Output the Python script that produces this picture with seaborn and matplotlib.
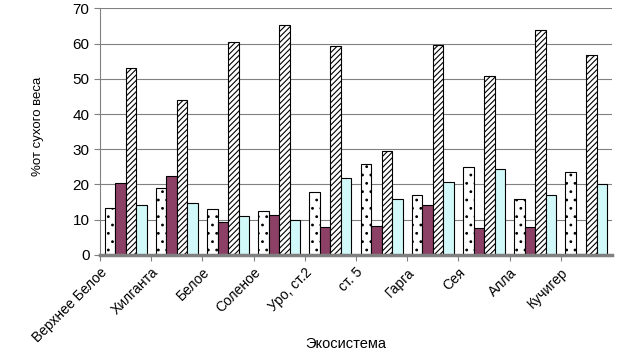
import pandas as pd
import seaborn as sns
import matplotlib.pyplot as plt

# Werte
ecosystems = ['Верхнее Белое', 'Хилганта', 'Белое', 'Соленое', 'Уро, ст.2',
              'ст. 5', 'Гарга', 'Сея', 'Алла', 'Кучигер']
series_names = ['A', 'B', 'C', 'D']
s1 = [13.2, 18.9, 13.1, 12.5, 17.8, 25.9, 16.9, 24.9, 15.8, 23.6]
s2 = [20.3, 22.5, 9.2, 11.3, 7.8, 8.1, 14.2, 7.6, 7.8, 0.3]
s3 = [53.0, 43.9, 60.6, 65.3, 59.4, 29.5, 59.6, 50.8, 63.9, 56.9]
s4 = [14.2, 14.7, 11.1, 10.0, 21.7, 15.9, 20.8, 24.5, 16.9, 20.1]

rows = []
for name, vals in zip(series_names, [s1, s2, s3, s4]):
    for eco, v in zip(ecosystems, vals):
        rows.append({'eco': eco, 'series': name, 'value': v})
df = pd.DataFrame(rows)

plt.rcParams['font.family'] = ['Liberation Sans', 'DejaVu Sans']
plt.rcParams['hatch.linewidth'] = 0.8

fig = plt.figure(figsize=(6.29, 3.52), dpi=100)
ax = fig.add_axes([0.159, 0.276, 0.814, 0.70])

colors = ['white', '#993366', 'white', '#CCFFFF']
sns.barplot(data=df, x='eco', y='value', hue='series', palette=colors,
            width=0.82, edgecolor='black', linewidth=0.8, legend=False, ax=ax)

hatches = ['..', '', '//////', '']
for cont, h in zip(ax.containers, hatches):
    for bar in cont:
        bar.set_hatch(h)

ax.set_ylim(0, 70)
ax.set_yticks(range(0, 71, 10))
ax.set_xlim(-0.5, len(ecosystems) - 0.5)
ax.yaxis.grid(True, color='#808080', linewidth=0.8)
ax.set_axisbelow(True)
for side in ['top', 'right']:
    ax.spines[side].set_visible(False)
ax.spines['left'].set_color('#808080')
ax.spines['bottom'].set_color('#808080')
ax.spines['bottom'].set_linewidth(2.5)

# Beschriftungen an den Gruppengrenzen wie im Original
ax.set_xticks([i - 0.5 for i in range(len(ecosystems))])
ax.set_xticklabels(ecosystems, rotation=45, ha='right', rotation_mode='anchor', fontsize=10)
ax.tick_params(axis='x', length=4, color='#808080')
ax.tick_params(axis='y', labelsize=11, length=4, color='#808080')

ax.set_xlabel('Экосистема', fontsize=10.5)
ax.xaxis.set_label_coords(0.48, -0.335)
ax.set_ylabel('%от сухого веса', fontsize=9.5)
ax.yaxis.set_label_coords(-0.11, 0.52)

plt.savefig('out.png', dpi=100)
